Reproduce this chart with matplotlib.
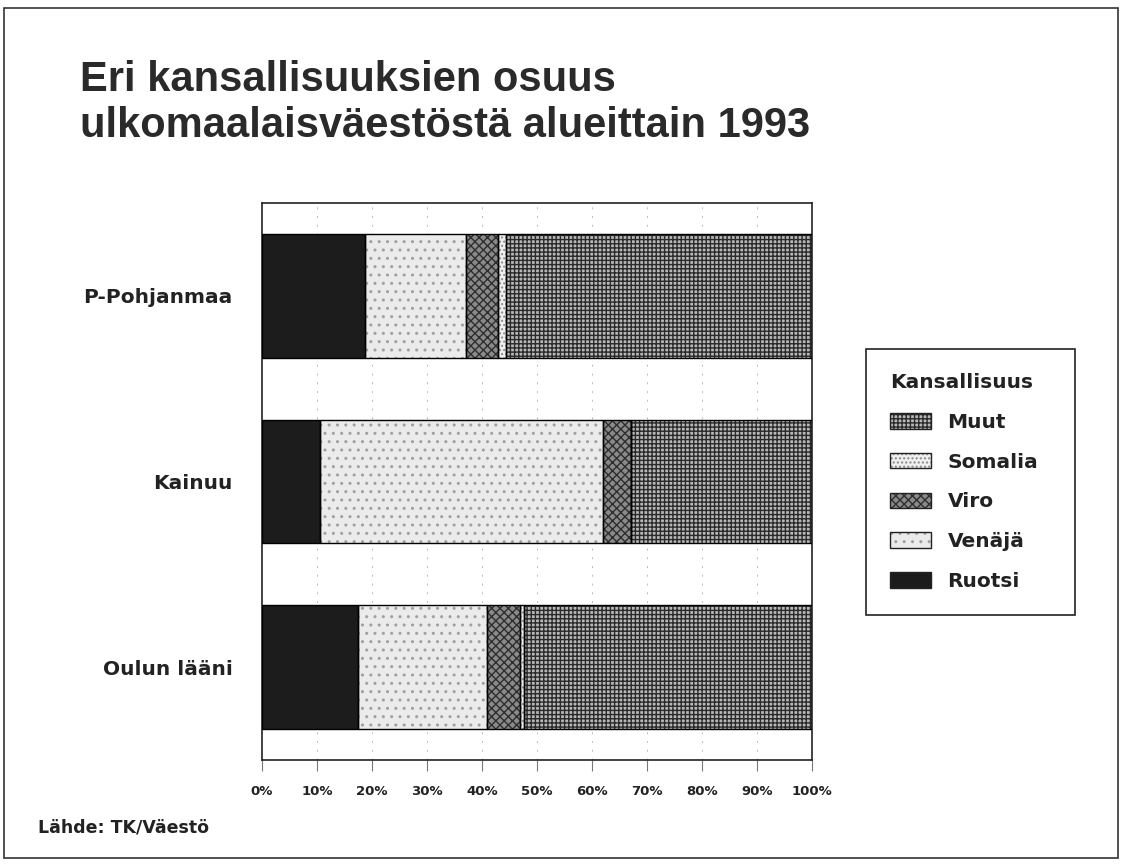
import matplotlib
matplotlib.use("Agg")
import matplotlib.pyplot as plt
from matplotlib.patches import Patch, Rectangle
from matplotlib.legend_handler import HandlerTuple
import numpy as np

# ---- data ----
regions = ["P-Pohjanmaa", "Kainuu", "Oulun lääni"]
ruotsi = [18.7, 10.5, 17.5]
venaja = [18.4, 51.5, 23.4]
viro = [5.8, 5.0, 6.0]
somalia = [1.5, 0.0, 0.7]
muut = [55.6, 33.0, 52.4]
series_names = ["Ruotsi", "Venäjä", "Viro", "Somalia", "Muut"]
tick_labels = ["0%", "10%", "20%", "30%", "40%", "50%", "60%", "70%", "80%", "90%", "100%"]
title = "Eri kansallisuuksien osuus\nulkomaalaisväestöstä alueittain 1993"
source = "Lähde: TK/Väestö"
legend_title = "Kansallisuus"

# ---- styles ----
styles = {
    "Ruotsi": dict(fc="#1c1c1c", hatch=None, hc="#1c1c1c"),
    "Venäjä": dict(fc="#ebebeb", hatch="..", hc="#a0a0a0"),
    "Viro": dict(fc="#8a8a8a", hatch="xxxx", hc="#2e2e2e"),
    "Somalia": dict(fc="#f0f0f0", hatch="....", hc="#8a8a8a"),
    "Muut": dict(fc="#b8b8b8", hatch="++++", hc="#2a2a2a"),
}

plt.rcParams["hatch.linewidth"] = 1.0
W, H = 1123, 864
fig = plt.figure(figsize=(W / 100, H / 100), dpi=100, facecolor="white")
ax = fig.add_axes([262 / W, 104 / H, 550 / W, 557 / H])

y = np.arange(len(regions))
data = {"Ruotsi": ruotsi, "Venäjä": venaja, "Viro": viro, "Somalia": somalia, "Muut": muut}
left = np.zeros(len(regions))
bar_h = 0.665
for name in series_names:
    vals = np.array(data[name])
    st = styles[name]
    ax.barh(y, vals, left=left, height=bar_h, color=st["fc"], hatch=st["hatch"],
            edgecolor=st["hc"], linewidth=0, zorder=2)
    ax.barh(y, vals, left=left, height=bar_h, fill=False, edgecolor="black",
            linewidth=1.0, zorder=3)
    left += vals

ax.set_xlim(0, 100)
ax.set_ylim(len(regions) - 0.5, -0.5)
ax.set_xticks(np.arange(0, 101, 10))
ax.set_xticklabels(tick_labels, fontsize=9.5, fontweight="bold", family="DejaVu Sans", color="#222222")
ax.set_yticks(y)
ax.set_yticklabels(regions, fontsize=14.5, fontweight="bold", family="DejaVu Sans", color="#222222")
ax.tick_params(axis="y", length=0, pad=21)
ax.tick_params(axis="x", length=8, width=0.8, color="#777777", pad=10, direction="out")
for s in ax.spines.values():
    s.set_linewidth(1.2)
    s.set_color("#222222")
for xv in range(10, 100, 10):
    ax.axvline(xv, color="#bbbbbb", lw=0.7, ls=(0, (2, 7)), zorder=1)

# title & source
fig.text(80 / W, 1 - 60 / H, title, fontsize=30, fontweight="bold", family="Liberation Sans",
         color="#2a2a2a", va="top", ha="left", linespacing=1.2)
fig.text(38 / W, 1 - 828 / H, source, fontsize=12.5, fontweight="bold", family="DejaVu Sans",
         color="#222222", va="center", ha="left")

# legend
handles = []
for name in ["Muut", "Somalia", "Viro", "Venäjä", "Ruotsi"]:
    st = styles[name]
    p1 = Patch(facecolor=st["fc"], hatch=st["hatch"], edgecolor=st["hc"], linewidth=0)
    p2 = Patch(fill=False, edgecolor="#222222", linewidth=1.0)
    handles.append((p1, p2))
labels = ["Muut", "Somalia", "Viro", "Venäjä", "Ruotsi"]
leg = fig.legend(handles, labels, handler_map={tuple: HandlerTuple(ndivide=1)},
                 loc="upper left", bbox_to_anchor=(866 / W, 0, 209 / W, 1 - 349 / H),
                 mode="expand", borderaxespad=0,
                 title=legend_title, alignment="left", frameon=True, fancybox=False,
                 edgecolor="#222222", framealpha=1, borderpad=1.2, labelspacing=1.03,
                 handlelength=2.05, handleheight=0.8, handletextpad=0.8,
                 prop=dict(family="DejaVu Sans", weight="bold", size=14.5),
                 title_fontproperties=dict(family="DejaVu Sans", weight="bold", size=14.5))
leg.get_frame().set_linewidth(1.2)
for t in leg.get_texts():
    t.set_color("#222222")
leg.get_title().set_color("#222222")

# figure border
fig.patches.append(Rectangle((4 / W, 6 / H), 1114 / W, 850 / H, transform=fig.transFigure,
                             fill=False, edgecolor="#333333", linewidth=1.2))

fig.savefig("out.png", dpi=100, facecolor="white")
